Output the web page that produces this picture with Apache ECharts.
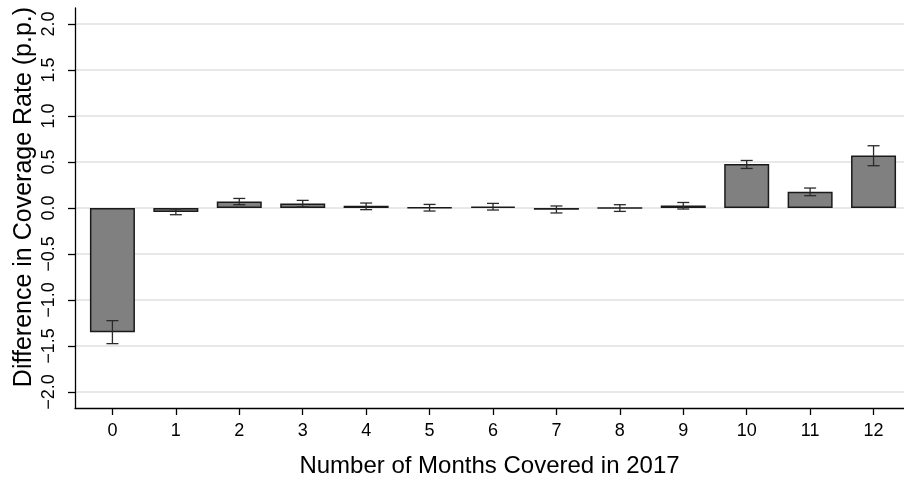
<!DOCTYPE html>
<html>
<head>
<meta charset="utf-8">
<script src="https://cdn.jsdelivr.net/npm/echarts@6/dist/echarts.min.js"></script>
<style>
html,body{margin:0;padding:0;background:#fff;}
#chart{width:904px;height:480px;}
</style>
</head>
<body>
<div id="chart"></div>
<script>
// Data
var categories = [0, 1, 2, 3, 4, 5, 6, 7, 8, 9, 10, 11, 12];
var values   = [-1.352, -0.043, 0.072, 0.050, 0.025, 0.006, 0.014, -0.018, 0.002, 0.026, 0.478, 0.177, 0.572];
var ciLow    = [-1.475, -0.073, 0.036, 0.011, -0.018, -0.033, -0.022, -0.054, -0.037, -0.011, 0.430, 0.134, 0.460];
var ciHigh   = [-1.225, -0.010, 0.104, 0.083, 0.054, 0.039, 0.050, 0.022, 0.036, 0.060, 0.517, 0.217, 0.677];
var yTicks   = [-2.0, -1.5, -1.0, -0.5, 0.0, 0.5, 1.0, 1.5, 2.0];
var xTitle = 'Number of Months Covered in 2017';
var yTitle = 'Difference in Coverage Rate (p.p.)';

var FONT = '"Liberation Sans", Arial, Helvetica, sans-serif';

var chart = echarts.init(document.getElementById('chart'), null, {renderer: 'canvas'});

var barData = categories.map(function (c, i) { return [c, values[i]]; });
var errData = categories.map(function (c, i) { return [c, ciLow[i], ciHigh[i]]; });

var option = {
  backgroundColor: '#ffffff',
  animation: false,
  grid: { left: 75, right: 0, top: 8, bottom: 72, containLabel: false, outerBoundsMode: 'none' },
  xAxis: {
    type: 'value',
    min: -0.59,
    max: 12.48,
    name: xTitle,
    nameLocation: 'middle',
    nameGap: 46,
    nameMoveOverlap: false,
    nameTextStyle: { fontFamily: FONT, fontSize: 24, color: '#000' },
    axisLine: { show: true, onZero: false, lineStyle: { color: '#000', width: 1.3 } },
    axisTick: { show: true, length: 7, customValues: categories, lineStyle: { color: '#000', width: 1.3 } },
    axisLabel: { customValues: categories, margin: 14, fontFamily: FONT, fontSize: 18, color: '#000' },
    splitLine: { show: false }
  },
  yAxis: {
    type: 'value',
    min: -2.175,
    max: 2.175,
    name: yTitle,
    nameLocation: 'middle',
    nameRotate: 90,
    nameGap: 38,
    nameMoveOverlap: false,
    nameTextStyle: { fontFamily: FONT, fontSize: 25, color: '#000', padding: [0, 0, 0, 22] },
    axisLine: { show: true, onZero: false, lineStyle: { color: '#000', width: 1.3 } },
    axisTick: { show: true, length: 7, customValues: yTicks, lineStyle: { color: '#000', width: 1.3 } },
    axisLabel: {
      customValues: yTicks,
      rotate: 90,
      margin: 17,
      fontFamily: FONT, fontSize: 18, color: '#000',
      formatter: function (v) { return (v < 0 ? '\u2212' : '') + Math.abs(v).toFixed(1); }
    },
    splitLine: { show: true, lineStyle: { color: '#e8e8e8', width: 2 } }
  },
  series: [
    {
      type: 'bar',
      data: barData,
      barWidth: 45,
      itemStyle: { color: '#808080', borderColor: '#1a1a1a', borderWidth: 1.5 },
      z: 2
    },
    {
      type: 'custom',
      data: errData,
      z: 3,
      renderItem: function (params, api) {
        var x = api.value(0);
        var lo = api.coord([x, api.value(1)]);
        var hi = api.coord([x, api.value(2)]);
        var hw = 6;
        var st = { stroke: '#2a2a2a', lineWidth: 1.3 };
        return {
          type: 'group',
          children: [
            { type: 'line', shape: { x1: lo[0], y1: lo[1], x2: hi[0], y2: hi[1] }, style: st },
            { type: 'line', shape: { x1: lo[0] - hw, y1: lo[1], x2: lo[0] + hw, y2: lo[1] }, style: st },
            { type: 'line', shape: { x1: hi[0] - hw, y1: hi[1], x2: hi[0] + hw, y2: hi[1] }, style: st }
          ]
        };
      }
    }
  ]
};
chart.setOption(option);
</script>
</body>
</html>
